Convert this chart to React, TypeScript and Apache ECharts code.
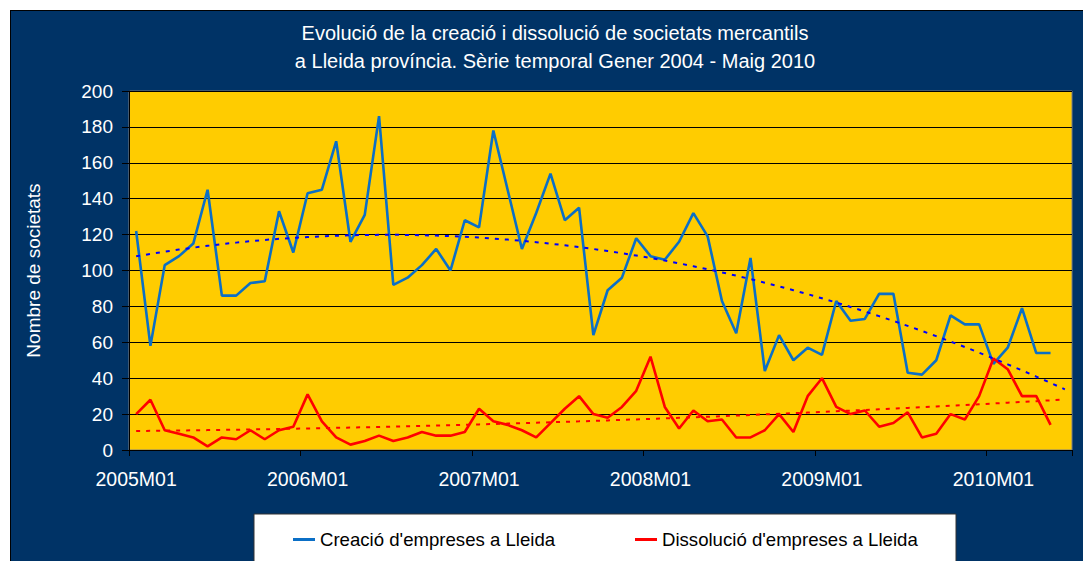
import React, { useEffect, useRef } from "react";
import * as echarts from "echarts";

// ---- data ----
const years = [2005, 2006, 2007, 2008, 2009, 2010];
const monthCodes = ["01", "02", "03", "04", "05", "06", "07", "08", "09", "10", "11", "12"];
const lastYearMonths = 6; // axis runs to 2010M06

const categories: string[] = [];
years.forEach((y, yi) => {
  const n = yi === years.length - 1 ? lastYearMonths : 12;
  for (let m = 0; m < n; m++) categories.push(`${y}M${monthCodes[m]}`);
});

const creacio = [
  122, 58, 103, 108, 115, 145, 86, 86, 93, 94, 133, 110,
  143, 145, 172, 116, 131, 186, 92, 96, 103, 112, 100, 128,
  124, 178, 145, 112, 132, 154, 128, 135, 64, 89, 96, 118,
  108, 106, 116, 132, 119, 83, 65, 107, 44, 64, 50, 57,
  53, 83, 72, 73, 87, 87, 43, 42, 50, 75, 70, 70,
  48, 57, 79, 54, 54,
];

const dissolucio = [
  20, 28, 11, 9, 7, 2, 7, 6, 11, 6, 11, 13,
  31, 16, 7, 3, 5, 8, 5, 7, 10, 8, 8, 10,
  23, 16, 14, 11, 7, 15, 23, 30, 20, 18, 24, 33,
  52, 24, 12, 22, 16, 17, 7, 7, 11, 20, 10, 30,
  40, 24, 20, 22, 13, 15, 21, 7, 9, 20, 17, 30,
  51, 45, 30, 30, 14,
];

const nameCreacio = "Creació d'empreses a Lleida";
const nameDissolucio = "Dissolució d'empreses a Lleida";
const titleLines = [
  "Evolució de la creació i dissolució de societats mercantils",
  "a Lleida província. Sèrie temporal Gener 2004 - Maig 2010",
];
const yAxisName = "Nombre de societats";
const yMin = 0;
const yMax = 200;
const yStep = 20;

// Polynomial (order 2) least-squares trendline, like the spreadsheet's trendline,
// computed from the data, x = 1..n, forecast to cover all categories.
function quadTrend(values: number[], total: number): number[] {
  const n = values.length;
  let s0 = 0, s1 = 0, s2 = 0, s3 = 0, s4 = 0, t0 = 0, t1 = 0, t2 = 0;
  for (let i = 0; i < n; i++) {
    const x = i + 1;
    const y = values[i];
    s0 += 1; s1 += x; s2 += x * x; s3 += x * x * x; s4 += x * x * x * x;
    t0 += y; t1 += x * y; t2 += x * x * y;
  }
  const A = [
    [s0, s1, s2, t0],
    [s1, s2, s3, t1],
    [s2, s3, s4, t2],
  ];
  for (let c = 0; c < 3; c++) {
    for (let r = c + 1; r < 3; r++) {
      const f = A[r][c] / A[c][c];
      for (let k = c; k < 4; k++) A[r][k] -= f * A[c][k];
    }
  }
  const coef = [0, 0, 0];
  for (let r = 2; r >= 0; r--) {
    let s = A[r][3];
    for (let k = r + 1; k < 3; k++) s -= A[r][k] * coef[k];
    coef[r] = s / A[r][r];
  }
  const out: number[] = [];
  for (let i = 0; i < total; i++) {
    const x = i + 1;
    out.push(coef[0] + coef[1] * x + coef[2] * x * x);
  }
  return out;
}

const FONT = "Arial, 'Liberation Sans', sans-serif";
const BG = "#003366";

export default function App() {
  const ref = useRef<HTMLDivElement>(null);

  useEffect(() => {
    if (!ref.current) return;
    const chart = echarts.init(ref.current, undefined, { renderer: "svg" });
    const trendC = quadTrend(creacio, categories.length);
    const trendD = quadTrend(dissolucio, categories.length);

    chart.setOption({
      animation: false,
      backgroundColor: BG,
      textStyle: { fontFamily: FONT },
      title: {
        text: titleLines.join("\n"),
        left: 544,
        top: 8,
        padding: 0,
        textAlign: "center",
        textStyle: {
          color: "#ffffff",
          fontSize: 20,
          fontWeight: "normal",
          fontFamily: FONT,
          lineHeight: 28,
        },
      },
      graphic: [
        {
          type: "rect",
          shape: { x: 243, y: 503, width: 702, height: 80 },
          style: { fill: "#ffffff", stroke: "#333333", lineWidth: 1 },
          silent: true,
        },
      ],
      legend: [
        {
          data: [nameCreacio],
          left: 282,
          top: 519,
          padding: 0,
          icon: "rect",
          itemWidth: 22,
          itemHeight: 3,
          textStyle: { color: "#000000", fontSize: 18.6, fontFamily: FONT },
        },
        {
          data: [nameDissolucio],
          left: 624,
          top: 519,
          padding: 0,
          icon: "rect",
          itemWidth: 22,
          itemHeight: 3,
          textStyle: { color: "#000000", fontSize: 18.6, fontFamily: FONT },
        },
      ],
      grid: {
        left: 118,
        right: 11,
        top: 80,
        bottom: 111,
        show: true,
        backgroundColor: "#FFCC00",
        borderColor: "#808080",
        borderWidth: 1,
      },
      xAxis: {
        type: "category",
        data: categories,
        boundaryGap: true,
        axisLine: { show: true, lineStyle: { color: "#000000", width: 1 } },
        axisTick: { show: true, interval: 11, length: 6, lineStyle: { color: "#000000" } },
        axisLabel: {
          interval: 11,
          color: "#ffffff",
          fontSize: 19.5,
          fontFamily: FONT,
          margin: 19,
        },
        splitLine: { show: false },
      },
      yAxis: {
        type: "value",
        min: yMin,
        max: yMax,
        interval: yStep,
        name: yAxisName,
        nameLocation: "middle",
        nameGap: 86,
        nameTextStyle: { color: "#ffffff", fontSize: 19, fontFamily: FONT },
        axisLine: { show: true, lineStyle: { color: "#000000", width: 1 } },
        axisTick: { show: true, length: 7, lineStyle: { color: "#000000" } },
        axisLabel: { color: "#ffffff", fontSize: 19, fontFamily: FONT, margin: 16 },
        splitLine: { show: true, lineStyle: { color: "#000000", width: 1 } },
      },
      series: [
        {
          name: nameCreacio,
          type: "line",
          data: creacio,
          showSymbol: false,
          symbol: "none",
          color: "#0B6FC6",
          lineStyle: { color: "#0B6FC6", width: 2.6 },
          z: 3,
        },
        {
          name: nameDissolucio,
          type: "line",
          data: dissolucio,
          showSymbol: false,
          symbol: "none",
          color: "#FF0000",
          lineStyle: { color: "#FF0000", width: 2.6 },
          z: 3,
        },
        {
          name: "trend-creacio",
          type: "line",
          data: trendC,
          showSymbol: false,
          symbol: "none",
          silent: true,
          lineStyle: { color: "#0000FF", width: 2, type: [4, 6] },
          z: 4,
        },
        {
          name: "trend-dissolucio",
          type: "line",
          data: trendD,
          showSymbol: false,
          symbol: "none",
          silent: true,
          lineStyle: { color: "#FF0000", width: 2, type: [4, 6] },
          z: 4,
        },
      ],
    });

    return () => chart.dispose();
  }, []);

  return (
    <div
      style={{
        position: "absolute",
        left: 10,
        top: 10,
        borderLeft: "1px solid #000",
        borderTop: "1px solid #000",
        background: BG,
      }}
    >
      <div ref={ref} style={{ width: 1072, height: 550 }} />
    </div>
  );
}
